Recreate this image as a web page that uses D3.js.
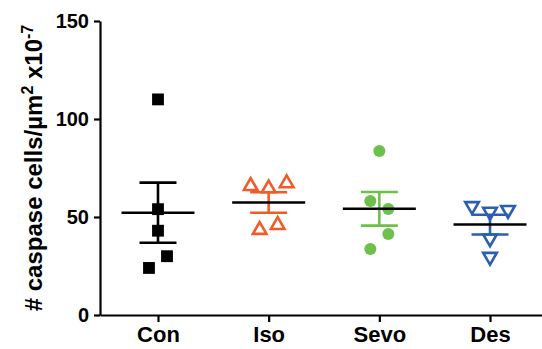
<!DOCTYPE html>
<html>
<head>
<meta charset="utf-8">
<script src="https://cdn.jsdelivr.net/npm/d3@7"></script>
<style>
  body { margin: 0; background: #fff; }
  text { font-family: "Liberation Sans", Arial, sans-serif; font-weight: bold; fill: #000; }
</style>
</head>
<body>
<svg id="chart" width="542" height="349"></svg>
<script>
const groups = ['Con', 'Iso', 'Sevo', 'Des'];
const groupColors = ['#000000', '#f15a29', '#6dc14a', '#2a5fb0'];
const groupShapes = ['square', 'triangleUp', 'circle', 'triangleDown'];

// each group: 5 animals
const conValues = [110, 54, 43, 30, 24];
const isoValues = [65.8, 64.6, 67.2, 43.4, 45.9];
const sevoValues = [83.7, 58.2, 54.1, 41.3, 33.7];
const desValues = [55.6, 52.7, 53.6, 39.1, 29.7];

// scatter column of each point (GraphPad-style spread)
const conColumns = [0, 0, 0, 0.5, -0.5];
const isoColumns = [-1, 0, 1, -0.5, 0.5];
const sevoColumns = [0, -0.5, 0.5, 0.5, -0.5];
const desColumns = [-1, 0, 1, 0, 0];

const yTicks = [0, 50, 100, 150];

const allValues = [conValues, isoValues, sevoValues, desValues];
const allColumns = [conColumns, isoColumns, sevoColumns, desColumns];

const svg = d3.select('#chart');
svg.append('rect').attr('width', 542).attr('height', 349).attr('fill', '#fff');

const plotLeft = 100, plotBottom = 315, plotTop = 21;

const x = d3.scalePoint()
  .domain(groups)
  .range([plotLeft, 548])
  .padding(0.524);

const y = d3.scaleLinear()
  .domain([0, 150])
  .range([plotBottom, plotTop]);

const spread = d3.scaleLinear().domain([-1, 1]).range([-18, 18]);

// axes
const yAxis = svg.append('g')
  .attr('transform', `translate(${plotLeft},0)`)
  .call(d3.axisLeft(y).tickValues(yTicks).tickSize(6).tickPadding(5).tickSizeOuter(0));
yAxis.attr('font-family', null).attr('font-size', null);
yAxis.selectAll('text').attr('font-size', 20);

const xAxis = svg.append('g')
  .attr('transform', `translate(0,${plotBottom})`)
  .call(d3.axisBottom(x).tickSize(7).tickPadding(4).tickSizeOuter(0));
xAxis.attr('font-family', null).attr('font-size', null);
xAxis.selectAll('text').attr('font-size', 22);

svg.selectAll('.domain, .tick line').attr('stroke', '#000').attr('stroke-width', 2.2);

// y label
svg.append('text')
  .attr('transform', `translate(42,${(plotTop + plotBottom) / 2}) rotate(-90)`)
  .attr('text-anchor', 'middle')
  .attr('font-size', 24)
  .html('# caspase cells/\u00b5m<tspan dy="-9" font-size="16">2</tspan><tspan dy="9"> x10</tspan><tspan dy="-9" font-size="16">-7</tspan>');

const symbolType = {
  square: d3.symbolSquare,
  circle: d3.symbolCircle,
  triangleUp: d3.symbolTriangle,
  triangleDown: d3.symbolTriangle
};

groups.forEach((g, i) => {
  const vals = allValues[i];
  const cols = allColumns[i];
  const color = groupColors[i];
  const shape = groupShapes[i];
  const cx = x(g);
  const mean = d3.mean(vals);
  const sem = d3.deviation(vals) / Math.sqrt(vals.length);
  const grp = svg.append('g');

  // points
  const filled = shape === 'square' || shape === 'circle';
  const size = shape === 'square' ? 140 : shape === 'circle' ? 115 : 80;
  grp.selectAll('path.pt')
    .data(vals)
    .join('path')
    .attr('class', 'pt')
    .attr('d', d3.symbol(symbolType[shape], size))
    .attr('transform', (d, j) => {
      const rot = shape === 'triangleDown' ? ' rotate(180)' : '';
      return `translate(${cx + spread(cols[j])},${y(d)})${rot}`;
    })
    .attr('fill', filled ? color : 'none')
    .attr('stroke', color)
    .attr('stroke-width', filled ? 0 : 2.6);

  // SEM error bar
  grp.append('line')
    .attr('x1', cx).attr('x2', cx)
    .attr('y1', y(mean - sem)).attr('y2', y(mean + sem))
    .attr('stroke', color).attr('stroke-width', 2.6);
  [mean - sem, mean + sem].forEach(v => {
    grp.append('line')
      .attr('x1', cx - 18.5).attr('x2', cx + 18.5)
      .attr('y1', y(v)).attr('y2', y(v))
      .attr('stroke', color).attr('stroke-width', 2.6);
  });

  // mean line
  grp.append('line')
    .attr('x1', cx - 36.5).attr('x2', cx + 36.5)
    .attr('y1', y(mean)).attr('y2', y(mean))
    .attr('stroke', '#000').attr('stroke-width', 2.6);
});
</script>
</body>
</html>
